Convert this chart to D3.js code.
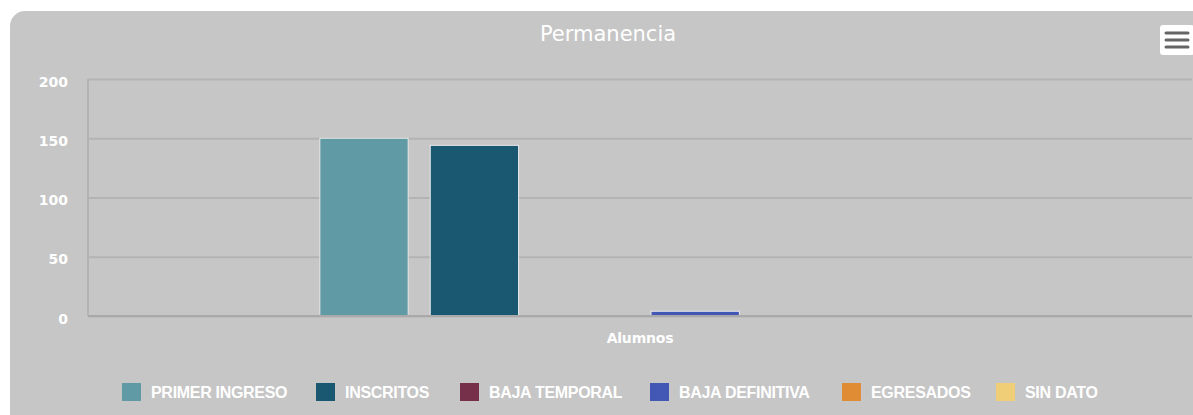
<!DOCTYPE html>
<html>
<head>
<meta charset="utf-8">
<script src="https://cdn.jsdelivr.net/npm/d3@7"></script>
<style>
  body { margin: 0; background: #fff; overflow: hidden; }
  text { fill: #fff; }
</style>
</head>
<body>
<div id="chart"></div>
<script>
// **** THE DATA ****
const categories = ["Alumnos"]
const seriesNames = ["PRIMER INGRESO", "INSCRITOS", "BAJA TEMPORAL", "BAJA DEFINITIVA", "EGRESADOS", "SIN DATO"]
const seriesValues = [150, 144, 0, 4, 0, 0]
const seriesColors = ["#5f9aa5", "#1a5872", "#77304a", "#4358b4", "#e08c34", "#f0cd77"]
const yTicks = [0, 50, 100, 150, 200]

// **** THE SETUP ****
const W = 1193, H = 415
const plot = {left: 88, right: 1192, top: 79, bottom: 316}

const svg = d3.select("#chart").append("svg")
    .attr("width", W)
    .attr("height", H)

// grey panel with rounded corner
svg.append("rect")
    .attr("x", 10).attr("y", 11)
    .attr("width", 1220).attr("height", 440)
    .attr("rx", 15)
    .attr("fill", "#c6c6c6")

// --> SCALES
const x0 = d3.scaleBand()
    .domain(categories)
    .range([plot.left, plot.right])

const x1 = d3.scaleBand()
    .domain(seriesNames)
    .range([x0.bandwidth() * 0.2, x0.bandwidth() * 0.8])
    .paddingInner(0.2)
    .paddingOuter(0.1)

const y = d3.scaleLinear()
    .domain([0, 200])
    .range([plot.bottom, plot.top])

// title
svg.append("text")
    .attr("x", 608).attr("y", 41)
    .attr("text-anchor", "middle")
    .style("font-family", "'DejaVu Sans', sans-serif")
    .style("font-size", "21px")
    .text("Permanencia")

// --> GRID + Y AXIS
svg.append("g")
    .attr("transform", "translate(" + plot.left + ",0)")
    .call(d3.axisLeft(y).tickValues(yTicks).tickSize(-(plot.right - plot.left)).tickPadding(20))
    .call(g => g.select(".domain").remove())
    .call(g => g.selectAll(".tick line").attr("stroke", "#b3b3b3").attr("stroke-width", 2))
    .call(g => g.selectAll(".tick text")
        .attr("dy", "0.5em")
        .style("font-family", "'DejaVu Sans', sans-serif")
        .style("font-weight", "bold")
        .style("font-size", "14px")
        .attr("fill", "#fff"))

// left border of plot
svg.append("line")
    .attr("x1", plot.left).attr("x2", plot.left)
    .attr("y1", plot.top).attr("y2", plot.bottom)
    .attr("stroke", "#b3b3b3").attr("stroke-width", 2)

// --> BARS
const groups = svg.selectAll(".group")
    .data(categories)
  .enter().append("g")
    .attr("transform", d => "translate(" + x0(d) + ",0)")

groups.selectAll("rect")
    .data(seriesNames.map((s, i) => ({name: s, value: seriesValues[i], color: seriesColors[i]})))
  .enter().append("rect")
    .filter(d => d.value > 0)
    .attr("x", d => x1(d.name))
    .attr("y", d => y(d.value))
    .attr("width", x1.bandwidth())
    .attr("height", d => y(0) - y(d.value))
    .attr("fill", d => d.color)
    .attr("stroke", "#e8e8e8")
    .attr("stroke-width", 1)

// x axis line
svg.append("line")
    .attr("x1", plot.left).attr("x2", plot.right)
    .attr("y1", plot.bottom).attr("y2", plot.bottom)
    .attr("stroke", "#a9a9a9").attr("stroke-width", 2)

// category label
svg.selectAll(".cat")
    .data(categories)
  .enter().append("text")
    .attr("x", d => x0(d) + x0.bandwidth() / 2)
    .attr("y", 343)
    .attr("text-anchor", "middle")
    .style("font-family", "'DejaVu Sans', sans-serif")
    .style("font-weight", "bold")
    .style("font-size", "14px")
    .style("letter-spacing", "-0.2px")
    .text(d => d)

// --> LEGEND
const legendX = [122, 316, 460, 650, 842, 996]
const legend = svg.selectAll(".legend")
    .data(seriesNames)
  .enter().append("g")
    .attr("transform", (d, i) => "translate(" + legendX[i] + ",383)")

legend.append("rect")
    .attr("width", 19).attr("height", 18)
    .attr("fill", (d, i) => seriesColors[i])

legend.append("text")
    .attr("x", 29).attr("y", 15)
    .style("font-family", "'Liberation Sans', sans-serif")
    .style("font-weight", "bold")
    .style("font-size", "16px")
    .style("letter-spacing", "-0.3px")
    .text(d => d)

// menu button
const menu = svg.append("g").attr("transform", "translate(1160,25)")
menu.append("rect")
    .attr("width", 34).attr("height", 30).attr("rx", 3)
    .attr("fill", "#fff")
menu.selectAll("line")
    .data([8, 15, 22])
  .enter().append("line")
    .attr("x1", 6).attr("x2", 28)
    .attr("y1", d => d).attr("y2", d => d)
    .attr("stroke", "#666").attr("stroke-width", 3)
    .attr("stroke-linecap", "round")
</script>
</body>
</html>
